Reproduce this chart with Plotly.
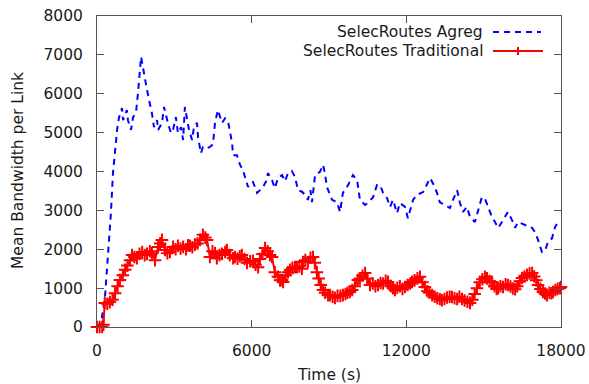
import plotly.graph_objects as go

# ---- data ----
agreg_t = [0, 150, 310, 430, 540, 620, 700, 780, 850, 970, 1010, 1160, 1200, 1320, 1400, 1510,
           1590, 1710, 1780, 1860, 1940, 2020, 2130, 2210, 2330, 2370, 2520, 2600, 2680, 2750,
           2870, 2950, 3060, 3140, 3260, 3340, 3410, 3490, 3570, 3690, 3760, 3880, 3920, 4030,
           4110, 4270, 4380, 4500, 4580, 4690, 4850, 4970, 5080, 5160, 5240, 5280, 5430, 5550,
           5660, 5740, 5860, 5940, 6050, 6130, 6210, 6320, 6440, 6590, 6630, 6790, 6900, 7020,
           7180, 7290, 7410, 7560, 7680, 7800, 7950, 8070, 8180, 8280, 8340, 8460, 8650, 8770,
           8840, 8920, 9120, 9310, 9430, 9540, 9740, 9930, 10090, 10200, 10400, 10510, 10710,
           10860, 10980, 11100, 11250, 11370, 11480, 11640, 11750, 11950, 12060, 12260, 12410,
           12650, 12800, 12920, 13030, 13190, 13300, 13450, 13580, 13690, 13810, 13970, 14080,
           14200, 14350, 14470, 14660, 14780, 14930, 15050, 15170, 15320, 15440, 15560, 15710,
           15830, 15940, 16100, 16220, 16330, 16530, 16680, 16880, 16990, 17110, 17260, 17380,
           17500, 17650, 17770, 17840]
agreg_v = [0, 60, 770, 1800, 2930, 3960, 4630, 5070, 5380, 5630, 5320, 5580, 5320, 5070, 5400, 5500,
           6020, 6950, 6690, 6350, 6100, 5840, 5500, 5140, 5320, 5070, 5250, 5660, 5400, 5250,
           4990, 5070, 5400, 4990, 5140, 4810, 5660, 5400, 5070, 4810, 5140, 5250, 4890, 4470,
           4630, 4600, 4630, 4700, 5270, 5580, 5250, 5370, 5300, 5020, 4730, 4420, 4420, 4170,
           4040, 3860, 3600, 3700, 3730, 3600, 3450, 3520, 3600, 3780, 3960, 3780, 3570, 3830,
           3910, 3750, 3960, 4010, 3860, 3520, 3480, 3400, 3270, 3520, 3210, 3910, 3990, 4170,
           3960, 3600, 3270, 3210, 2960, 3450, 3650, 3910, 3780, 3270, 3140, 3190, 3340,
           3650, 3650, 3450, 3320, 3090, 3270, 2930, 3190, 3090, 2800, 3270, 3400,
           3470, 3650, 3830, 3700, 3450, 3210, 3150, 3090, 3060, 3270, 3520, 3190,
           2960, 3090, 2830, 2700, 2960, 3340, 3300, 3090, 2830, 2700, 2550, 2700,
           2830, 2960, 2750, 2550, 2700, 2650, 2620, 2550, 2440, 2240, 1930, 1960,
           2200, 2280, 2570, 2650]

trad_t = [0, 100, 200, 250, 300, 400, 500, 600, 700, 800, 890, 1000, 1090, 1180, 1280, 1360, 1450,
          1550, 1650, 1750, 1850, 1940, 2050, 2130, 2250, 2370, 2450, 2520, 2640, 2730, 2830, 2950,
          3050, 3140, 3240, 3340, 3450, 3530, 3610, 3700, 3800, 3900, 4000, 4110, 4200, 4270, 4380,
          4480, 4580, 4650, 4750, 4850, 4970, 5040, 5150, 5280, 5350, 5450, 5540, 5620, 5720, 5820,
          5940, 6050, 6150, 6250, 6320, 6420, 6520, 6620, 6710, 6790, 6900, 7020, 7100, 7180, 7220,
          7320, 7410, 7490, 7580, 7680, 7760, 7850, 7950, 7990, 8080, 8180, 8280, 8380, 8450, 8530,
          8600, 8680, 8770, 8850, 8960, 9040, 9140, 9230, 9330, 9440, 9540, 9640, 9720, 9810, 9900,
          10000, 10120, 10200, 10300, 10400, 10480, 10590, 10700, 10800, 10900, 11000, 11100, 11200,
          11290, 11400, 11480, 11560, 11650, 11750, 11850, 11950, 12050, 12150, 12220, 12320, 12430,
          12530, 12620, 12720, 12820, 12900, 13000, 13100, 13200, 13300, 13380, 13480, 13580, 13680,
          13770, 13870, 13970, 14060, 14160, 14260, 14370, 14470, 14560, 14650, 14740, 14850, 14950,
          15050, 15130, 15230, 15320, 15420, 15500, 15560, 15650, 15750, 15850, 15940, 16040, 16130,
          16220, 16300, 16400, 16490, 16580, 16680, 16780, 16880, 16960, 17040, 17110, 17200, 17300,
          17380, 17460, 17550, 17630, 17690, 17780, 17870, 17960, 18000]
trad_v = [0, 0, 0, 60, 620, 600, 640, 700, 870, 1050, 1210, 1330, 1470, 1580, 1720, 1850, 1800,
          1770, 1880, 1930, 1850, 1880, 1950, 1900, 1720, 2060, 2150, 2240, 1980, 1900, 1930, 2060,
          2000, 2090, 2020, 2060, 2000, 2100, 2090, 2050, 2120, 2150, 2240, 2370, 2300, 2240, 1800,
          1950, 1900, 1770, 1850, 1880, 1930, 1980, 1850, 1770, 1800, 1760, 1820, 1850, 1750, 1650,
          1690, 1700, 1600, 1540, 1750, 1880, 2030, 1950, 1850, 1800, 1410, 1290, 1200, 1210, 1160,
          1330, 1410, 1470, 1520, 1540, 1540, 1560, 1500, 1670, 1720, 1670, 1780, 1800, 1650, 1410,
          1250, 1080, 950, 880, 820, 820, 780, 750, 800, 800, 820, 850, 880, 900, 950,
          1050, 1210, 1250, 1320, 1390, 1250, 1080, 1120, 1050, 1080, 1130, 1120, 1190,
          1160, 1050, 1000, 950, 1010, 1050, 980, 1030, 1080, 1120, 1160, 1200, 1250,
          1290, 1150, 1030, 920, 880, 820, 780, 740, 720, 690, 720, 760, 780,
          770, 740, 720, 780, 720, 680, 650, 620, 700, 850, 1000, 1150, 1230,
          1290, 1250, 1180, 1160, 1050, 980, 1000, 1050, 1030, 1100, 1080, 1040, 990,
          970, 1050, 1180, 1260, 1300, 1340, 1380, 1390, 1300, 1200, 1080, 980, 900,
          860, 820, 880, 870, 900, 950, 980, 1000, 1030]

x_ticks = [0, 6000, 12000, 18000]
y_ticks = [0, 1000, 2000, 3000, 4000, 5000, 6000, 7000, 8000]
names = ["SelecRoutes Agreg", "SelecRoutes Traditional"]
x_title = "Time (s)"
y_title = "Mean Bandwidth per Link"

FONT = "DejaVu Sans"
FS = 15.5
TXT = "#1a1a1a"
AX = "#555555"

fig = go.Figure()
fig.add_trace(go.Scatter(x=agreg_t, y=agreg_v, mode="lines", name=names[0],
                         line=dict(color="#0000ff", width=2, dash="6px,5px"),
                         showlegend=False))
fig.add_trace(go.Scatter(x=trad_t, y=trad_v, mode="lines+markers", name=names[1],
                         line=dict(color="#ff0000", width=2),
                         marker=dict(symbol="cross-thin", size=9, color="#ff0000",
                                     line=dict(color="#ff0000", width=2)),
                         cliponaxis=False, showlegend=False))

L, R, T, B = 97, 28, 16, 57
W, H = 589, 384
pw, ph = W - L - R, H - T - B

def px2x(px):
    return (px - L) / pw

def py2y(py):
    return (H - B - py) / ph

# custom legend (gnuplot style: text then sample)
leg_y = [32, 51]
text_right = 485
s0, s1 = 493, 541
annotations = []
shapes = []
for nm, yy in zip(names, leg_y):
    annotations.append(dict(x=px2x(text_right), y=py2y(yy), xref="paper", yref="paper",
                            text=nm, showarrow=False, xanchor="right", yanchor="middle",
                            font=dict(family=FONT, size=FS, color=TXT)))
annotations.append(dict(x=px2x(329), y=py2y(375), xref="paper", yref="paper", text=x_title,
                        showarrow=False, xanchor="center", yanchor="middle",
                        font=dict(family=FONT, size=FS, color=TXT)))
annotations.append(dict(x=px2x(18), y=py2y(171), xref="paper", yref="paper", text=y_title,
                        showarrow=False, xanchor="center", yanchor="middle", textangle=-90,
                        font=dict(family=FONT, size=FS, color=TXT)))
shapes.append(dict(type="line", xref="paper", yref="paper", x0=px2x(s0), x1=px2x(s1),
                   y0=py2y(leg_y[0]), y1=py2y(leg_y[0]),
                   line=dict(color="#0000ff", width=2, dash="6px,5px")))
shapes.append(dict(type="line", xref="paper", yref="paper", x0=px2x(s0), x1=px2x(s1 + 2),
                   y0=py2y(leg_y[1]), y1=py2y(leg_y[1]),
                   line=dict(color="#ff0000", width=2)))
cx = (s0 + s1 + 2) / 2
shapes.append(dict(type="line", xref="paper", yref="paper", x0=px2x(cx), x1=px2x(cx),
                   y0=py2y(leg_y[1] - 4), y1=py2y(leg_y[1] + 4),
                   line=dict(color="#ff0000", width=2)))

fig.update_layout(
    width=W, height=H,
    margin=dict(l=L, r=R, t=T, b=B, pad=0, autoexpand=False),
    paper_bgcolor="white", plot_bgcolor="white",
    font=dict(family=FONT, size=FS, color=TXT),
    showlegend=False,
    annotations=annotations,
    shapes=shapes,
    xaxis=dict(range=[0, 18000], tickvals=x_ticks, ticktext=[str(v) for v in x_ticks],
               ticks="inside", ticklen=7, tickcolor=AX, tickwidth=1,
               showline=True, linecolor=AX, linewidth=1, mirror="ticks",
               showgrid=False, zeroline=False, ticklabelstandoff=9, automargin=False,
               tickfont=dict(family=FONT, size=FS, color=TXT)),
    yaxis=dict(range=[0, 8000], tickvals=y_ticks, ticktext=[str(v) for v in y_ticks],
               ticks="inside", ticklen=7, tickcolor=AX, tickwidth=1,
               showline=True, linecolor=AX, linewidth=1, mirror="ticks",
               showgrid=False, zeroline=False, ticklabelstandoff=10, automargin=False,
               tickfont=dict(family=FONT, size=FS, color=TXT)),
)

fig.write_html("out.html")
